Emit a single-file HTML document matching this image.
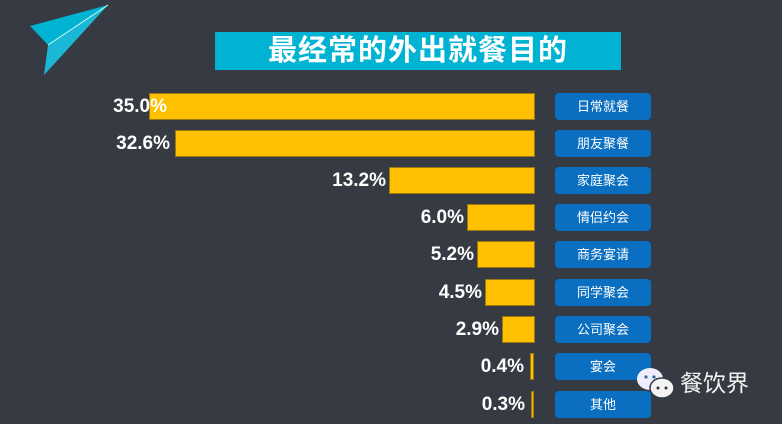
<!DOCTYPE html><html><head><meta charset="utf-8"><style>
body{margin:0;width:782px;height:424px;background:#363a42;position:relative;overflow:hidden;font-family:"Liberation Sans","Noto Sans CJK SC",sans-serif}
.t{position:absolute;left:215px;top:32px;width:406px;height:38px;background:#00b3d3;color:#fff;font-weight:bold;font-size:29px;line-height:38px;text-align:center;letter-spacing:1px}
.b{position:absolute;height:27px;background:#ffc000;box-shadow:0 0 0 1px #9a7a10 inset}
.v{position:absolute;color:#fff;font-weight:bold;font-size:19px;line-height:27px;text-align:right;width:90px}
.l{position:absolute;left:555px;width:96px;height:27px;background:#0a6fc0;border-radius:4px;color:#fff;font-size:13px;line-height:27px;text-align:center}
</style></head><body>
<svg style="position:absolute;left:0;top:0" width="120" height="80"><polygon points="30,26 108,5 48,45" fill="#00b3d3"/><polygon points="48,45 108,5 44,75" fill="#1ab8d6"/><line x1="48" y1="45" x2="108" y2="5" stroke="#cfe" stroke-width="1"/></svg>
<div class="t">最经常的外出就餐目的</div>
<div class="b" style="left:149px;top:93px;width:386px"></div><div class="v" style="left:77px;top:93px">35.0%</div><div class="l" style="top:93px">日常就餐</div>
<div class="b" style="left:175px;top:130px;width:360px"></div><div class="v" style="left:80px;top:130px">32.6%</div><div class="l" style="top:130px">朋友聚餐</div>
<div class="b" style="left:389px;top:167px;width:146px"></div><div class="v" style="left:296px;top:167px">13.2%</div><div class="l" style="top:167px">家庭聚会</div>
<div class="b" style="left:467px;top:204px;width:68px"></div><div class="v" style="left:374px;top:204px">6.0%</div><div class="l" style="top:204px">情侣约会</div>
<div class="b" style="left:477px;top:241px;width:58px"></div><div class="v" style="left:384px;top:241px">5.2%</div><div class="l" style="top:241px">商务宴请</div>
<div class="b" style="left:485px;top:279px;width:50px"></div><div class="v" style="left:392px;top:279px">4.5%</div><div class="l" style="top:279px">同学聚会</div>
<div class="b" style="left:502px;top:316px;width:33px"></div><div class="v" style="left:409px;top:316px">2.9%</div><div class="l" style="top:316px">公司聚会</div>
<div class="b" style="left:530px;top:353px;width:4px"></div><div class="v" style="left:434px;top:353px">0.4%</div><div class="l" style="top:353px">宴会</div>
<div class="b" style="left:531px;top:391px;width:3px"></div><div class="v" style="left:435px;top:391px">0.3%</div><div class="l" style="top:391px">其他</div>
<svg style="position:absolute;left:636px;top:366px" width="42" height="36"><ellipse cx="14" cy="13" rx="13" ry="11" fill="#eef"/><ellipse cx="26" cy="22" rx="12" ry="10" fill="#f4f4f4" stroke="#363a42" stroke-width="1.5"/><circle cx="10" cy="11" r="1.6" fill="#369"/><circle cx="18" cy="11" r="1.6" fill="#369"/><circle cx="22" cy="22" r="1.5" fill="#333"/><circle cx="30" cy="22" r="1.5" fill="#333"/></svg>
<div style="position:absolute;left:680px;top:368px;color:#f2f2f2;font-size:23px;line-height:30px">餐饮界</div>
</body></html>
